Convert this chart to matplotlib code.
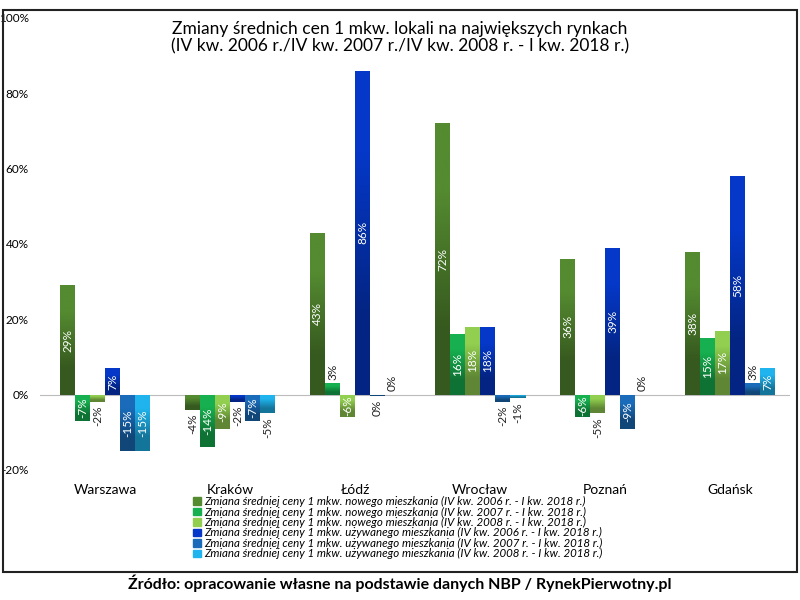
import matplotlib.pyplot as plt
import numpy as np
from matplotlib.patches import Rectangle
from matplotlib.colors import to_rgb

# dane
cities = ["Warszawa", "Kraków", "Łódź", "Wrocław", "Poznań", "Gdańsk"]
nowe_2006 = [29, -4, 43, 72, 36, 38]
nowe_2007 = [-7, -14, 3, 16, -6, 15]
nowe_2008 = [-2, -9, -6, 18, -5, 17]
uzyw_2006 = [7, -2, 86, 18, 39, 58]
uzyw_2007 = [-15, -7, -0.4, -2, -9, 3]
uzyw_2008 = [-15, -5, 0, -1, 0, 7]

series_names = [
    "Zmiana średniej ceny 1 mkw. nowego mieszkania (IV kw. 2006 r. - I kw. 2018 r.)",
    "Zmiana średniej ceny 1 mkw. nowego mieszkania (IV kw. 2007 r. - I kw. 2018 r.)",
    "Zmiana średniej ceny 1 mkw. nowego mieszkania (IV kw. 2008 r. - I kw. 2018 r.)",
    "Zmiana średniej ceny 1 mkw. używanego mieszkania (IV kw. 2006 r. - I kw. 2018 r.)",
    "Zmiana średniej ceny 1 mkw. używanego mieszkania (IV kw. 2007 r. - I kw. 2018 r.)",
    "Zmiana średniej ceny 1 mkw. używanego mieszkania (IV kw. 2008 r. - I kw. 2018 r.)",
]
series = [nowe_2006, nowe_2007, nowe_2008, uzyw_2006, uzyw_2007, uzyw_2008]
colors = ["#548a30", "#17b050", "#92cf50", "#0538c8", "#1a6cba", "#20b4ee"]

plt.rcParams['font.family'] = ['Lato', 'DejaVu Sans']

fig = plt.figure(figsize=(8, 6), dpi=100)
ax = fig.add_axes([0.05, 0.2167, 0.9375, 0.7533])


def gradient_bar(bar, col):
    # gradient: jasniejszy u gory, ciemniejszy u dolu
    x0, y0 = bar.get_x(), bar.get_y()
    bw, bh = bar.get_width(), bar.get_height()
    if bh == 0:
        return
    top = np.array(to_rgb(col))
    bottom = top * 0.65
    ylo, yhi = min(y0, y0 + bh), max(y0, y0 + bh)
    img = np.array([top, bottom]).reshape(2, 1, 3)
    im = ax.imshow(img, extent=(x0, x0 + bw, ylo, yhi), aspect='auto',
                   interpolation='bilinear', zorder=2, origin='upper')
    im.set_clip_path(bar)
    bar.set_facecolor('none')


x = np.arange(len(cities))
w = 0.12
for i, (vals, col, name) in enumerate(zip(series, colors, series_names)):
    pos = x + (i - 2.5) * w
    bars = ax.bar(pos, vals, width=w, color=col, label=name, zorder=2, lw=0)
    for b in bars:
        gradient_bar(b, col)
    for p, v in zip(pos, vals):
        lab = "%d%%" % round(v)
        if abs(v) >= 6:
            ax.text(p, v / 2, lab, rotation=90, ha='center', va='center',
                    color='white', fontsize=8.5, zorder=3)
        elif v >= 0:
            ax.text(p, v + 1, lab, rotation=90, ha='center', va='bottom',
                    color='#222222', fontsize=8.5)
        else:
            ax.text(p, v - 1, lab, rotation=90, ha='center', va='top',
                    color='#222222', fontsize=8.5)

ax.axhline(0, color='#bbbbbb', lw=0.8, zorder=1)
ax.set_ylim(-20, 100)
ax.set_xlim(-0.52, 5.48)
ax.set_yticks(range(-20, 101, 20))
ax.set_yticklabels(["%d%%" % t for t in range(-20, 101, 20)], fontsize=8.5)
ax.set_xticks(x)
ax.set_xticklabels(cities, fontsize=10)
ax.tick_params(length=0)
ax.tick_params(axis='x', pad=10)
ax.tick_params(axis='y', pad=8)
for s in ax.spines.values():
    s.set_visible(False)

fig.text(0.5, 0.952, "Zmiany średnich cen 1 mkw. lokali na największych rynkach",
         ha='center', va='center', fontsize=12.5)
fig.text(0.5, 0.923, "(IV kw. 2006 r./IV kw. 2007 r./IV kw. 2008 r. - I kw. 2018 r.)",
         ha='center', va='center', fontsize=12.5)

# legenda pod wykresem
handles = [Rectangle((0, 0), 1, 1, color=c) for c in colors]
leg = fig.legend(handles, series_names, loc='upper center',
                 bbox_to_anchor=(0.497, 0.183), ncol=1, borderpad=0,
                 frameon=False, handlelength=0.7, handleheight=0.6,
                 handletextpad=0.3, labelspacing=-0.05,
                 prop={'style': 'italic', 'size': 8.3})

fig.patches.append(Rectangle((0.004, 0.047), 0.992, 0.936, transform=fig.transFigure,
                             fill=False, edgecolor='#222222', lw=1.5))

fig.text(0.5, 0.028, "Źródło: opracowanie własne na podstawie danych NBP / RynekPierwotny.pl",
         ha='center', va='center', fontsize=11.5, fontweight='bold')

fig.savefig("out.png", dpi=100)
